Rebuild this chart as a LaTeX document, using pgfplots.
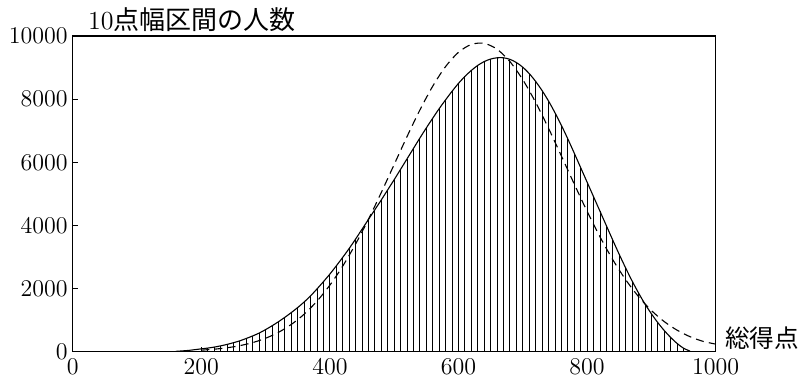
\documentclass[border=0pt]{standalone}
\usepackage{pgfplots}
\pgfplotsset{compat=1.18}
\usepackage{pgfplotstable}
\usepackage{fontspec}
\newfontfamily\cjk{Noto Sans CJK JP}

\pgfplotstableread{
x y
160 10
170 25
180 40
190 65
200 90
210 115
220 145
230 185
240 230
250 285
260 345
270 420
280 500
290 590
300 700
310 820
320 950
330 1090
340 1240
350 1400
360 1575
370 1770
380 1990
390 2220
400 2460
410 2720
420 2990
430 3270
440 3570
450 3880
460 4190
470 4500
480 4810
490 5130
500 5450
510 5780
520 6110
530 6440
540 6770
550 7090
560 7400
570 7700
580 7980
590 8250
600 8500
610 8720
620 8910
630 9070
640 9190
650 9270
660 9310
670 9310
680 9260
690 9160
700 9010
710 8810
720 8560
730 8270
740 7940
750 7570
760 7170
770 6740
780 6290
790 5830
800 5370
810 4910
820 4450
830 3990
840 3530
850 3080
860 2650
870 2240
880 1860
890 1510
900 1200
910 920
920 670
930 450
940 260
950 110
960 20
}\solid

\pgfplotstableread{
x y
200 49
220 79
240 124
260 192
280 289
300 426
320 613
340 864
360 1189
380 1602
400 2109
420 2713
440 3412
460 4197
480 5046
500 5932
520 6817
540 7659
560 8413
580 9034
600 9484
620 9733
640 9766
660 9580
680 9188
700 8614
720 7896
740 7077
760 6199
780 5310
800 4446
820 3640
840 2912
860 2280
880 1744
900 1304
920 953
940 681
960 476
980 330
1000 240
}\dashed

\begin{document}
\begin{tikzpicture}
\begin{axis}[
  scale only axis,
  width=321.5pt, height=157.85pt,
  xmin=0, xmax=1000, ymin=0, ymax=10000,
  xtick={0,200,400,600,800,1000},
  ytick={0,2000,4000,6000,8000,10000},
  tick align=inside,
  xtick pos=bottom, ytick pos=left,
  major tick length=2.5pt,
  tick style={black, line width=0.5pt},
  axis line style={black, line width=0.6pt},
  scaled ticks=false,
  xticklabel style={font=\fontsize{13}{15}\selectfont},
  yticklabel style={font=\fontsize{13}{15}\selectfont, xshift=1pt},
  yticklabel={\pgfmathprintnumber[fixed,1000 sep={}]{\tick}},
  xticklabel={\pgfmathprintnumber[fixed,1000 sep={}]{\tick}},
  clip=false,
]
\addplot[ycomb, black, line width=0.45pt, no markers, restrict x to domain=195:955] table[x=x,y=y] {\solid};
\addplot[black, line width=0.55pt, smooth, no markers] table[x=x,y=y] {\solid};
\addplot[black, line width=0.55pt, smooth, no markers, dash pattern=on 4pt off 2.6pt] table[x=x,y=y] {\dashed};
\node[anchor=south west, inner sep=0pt, xshift=7.5pt, yshift=2pt, font=\fontsize{13}{15}\selectfont] at (rel axis cs:0,1) {10{\cjk 点幅区間の人数}};
\node[anchor=west, inner sep=0pt, xshift=4.5pt, yshift=6.9pt, font=\fontsize{12.3}{14}\selectfont] at (rel axis cs:1,0) {\cjk 総得点};
\end{axis}
\pgfresetboundingbox
\path ([xshift=-36.35pt, yshift=-13.65pt]current axis.south west) rectangle ([xshift=364.15pt, yshift=175.85pt]current axis.south west);
\end{tikzpicture}
\end{document}
